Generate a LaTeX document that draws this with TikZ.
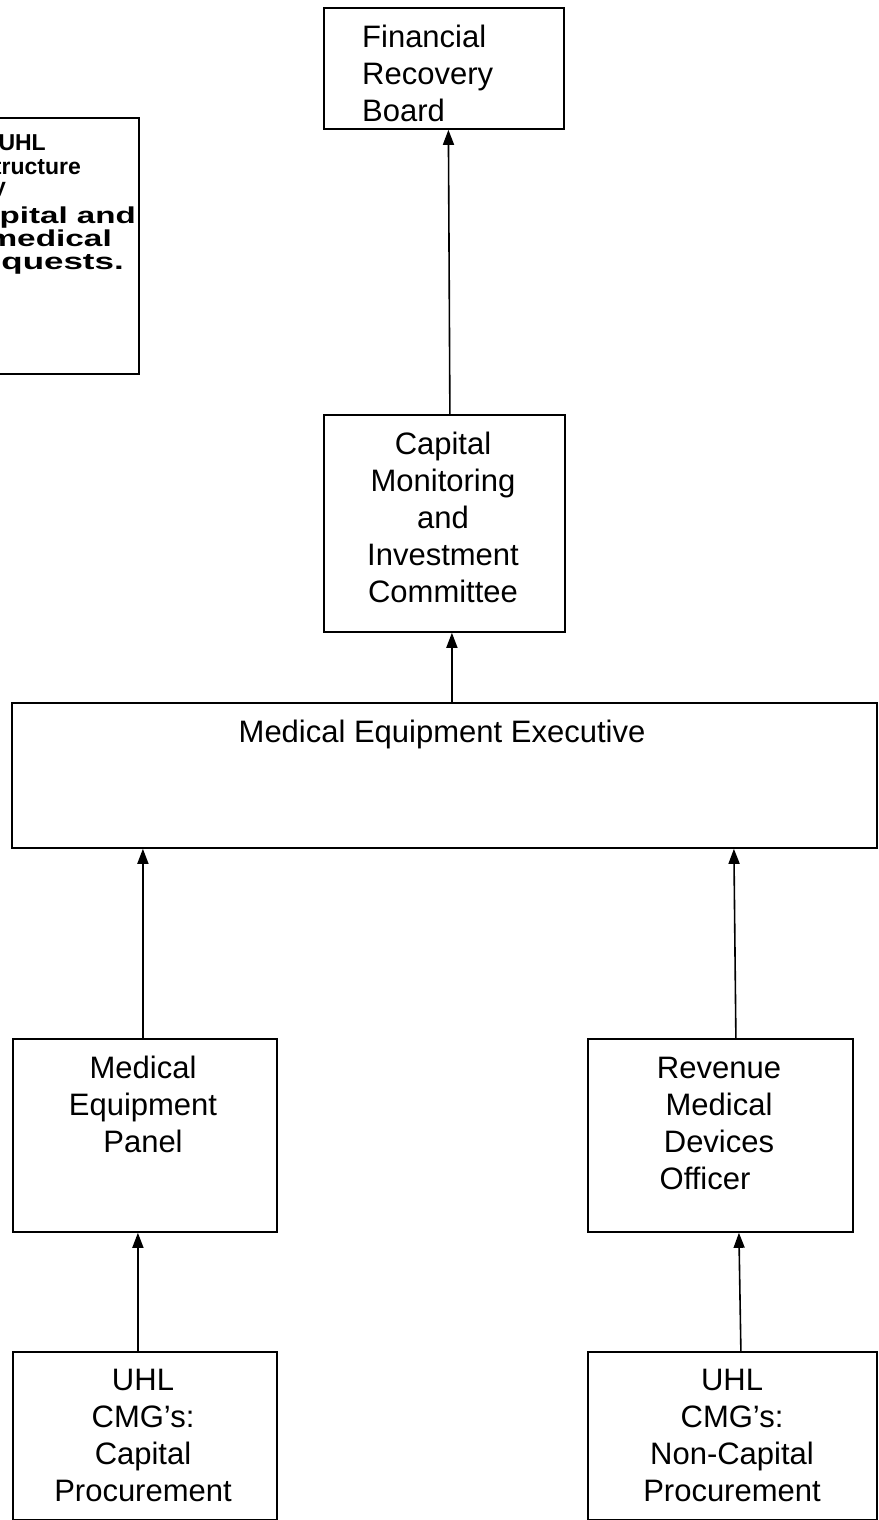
\documentclass[tikz,border=0pt]{standalone}
\usepackage{fontspec}
\setmainfont{Liberation Sans}
\usetikzlibrary{arrows.meta}
\newcommand{\wide}[2][1.45]{\scalebox{#1}[1]{#2}}
\begin{document}
\begin{tikzpicture}[x=1pt,y=-1pt,
  box/.style={draw, line width=1.8pt, rectangle, inner sep=0pt, anchor=north west},
  txt/.style={inner sep=0pt, font=\fontsize{31}{37}\selectfont, align=center, anchor=north},
  note/.style={inner sep=0pt, font=\fontsize{23}{22}\selectfont\bfseries, anchor=base east},
  link/.style={line width=1.6pt, -{Triangle[width=11pt,length=15pt]}}]

% page frame: everything outside is cut away
\clip (0,0) rectangle (878,1520);

% boxes
\node[box, minimum width=240, minimum height=121] (frb)  at (323,7)    {};
\node[box, minimum width=241, minimum height=217] (cmic) at (323,414)  {};
\node[box, minimum width=865, minimum height=145] (mee)  at (11,702)   {};
\node[box, minimum width=264, minimum height=193] (mep)  at (12,1038)  {};
\node[box, minimum width=265, minimum height=193] (rmdo) at (587,1038) {};
\node[box, minimum width=264, minimum height=168] (cap)  at (12,1351)  {};
\node[box, minimum width=289, minimum height=168] (ncap) at (587,1351) {};
\node[box, minimum width=238, minimum height=256] (notebox) at (-100,117) {};

% box texts (first baseline 40pt below the box top)
\node[txt, anchor=north west, align=left] (frbt) at (362,7)
  {\rule{0pt}{40pt}Financial\\Recovery\\Board};
\node[txt] (cmict) at (443,414)
  {\rule{0pt}{40pt}Capital\\Monitoring\\and\\Investment\\Committee};
\node[txt] (meet) at (442,702)
  {\rule{0pt}{40pt}Medical Equipment Executive};
\node[txt] (mept) at (143,1038)
  {\rule{0pt}{40pt}Medical\\Equipment\\Panel};
\node[txt] (rmdot) at (719,1038)
  {\rule{0pt}{40pt}Revenue\\Medical\\Devices\\Officer\hspace*{28pt}};
\node[txt] (capt) at (143,1351)
  {\rule{0pt}{39pt}UHL\\CMG’s:\\Capital\\Procurement};
\node[txt] (ncapt) at (732,1351)
  {\rule{0pt}{39pt}UHL\\CMG’s:\\Non-Capital\\Procurement};

% note text, cut off at the left edge
\node[note] (n1) at (46,150)  {UHL};
\node[note] (n2) at (81,174)  {structure};
\node[note] (n3) at (6,194)   {by};
\node[note] (n4) at (136,223) {\wide[1.44]{capital and}};
\node[note] (n5) at (112,246) {\wide[1.45]{medical}};
\node[note] (n6) at (124,269) {\wide[1.52]{requests.}};

% connectors
\draw[link] ([xshift=5.5pt]cmic.north) -- ([xshift=4.5pt]frb.south);
\draw[link] ([xshift=7.5pt]mee.north) -- ([xshift=7.5pt]cmic.south);
\draw[link] ([xshift=-2pt]mep.north) -- ([xshift=-2pt]mep.north |- mee.south);
\draw[link] ([xshift=15.5pt]rmdo.north) -- ([xshift=289.5pt]mee.south);
\draw[link] ([xshift=-7pt]cap.north) -- ([xshift=-7pt]mep.south);
\draw[link] ([xshift=8.5pt]ncap.north) -- ([xshift=18.5pt]rmdo.south);
\end{tikzpicture}
\end{document}
